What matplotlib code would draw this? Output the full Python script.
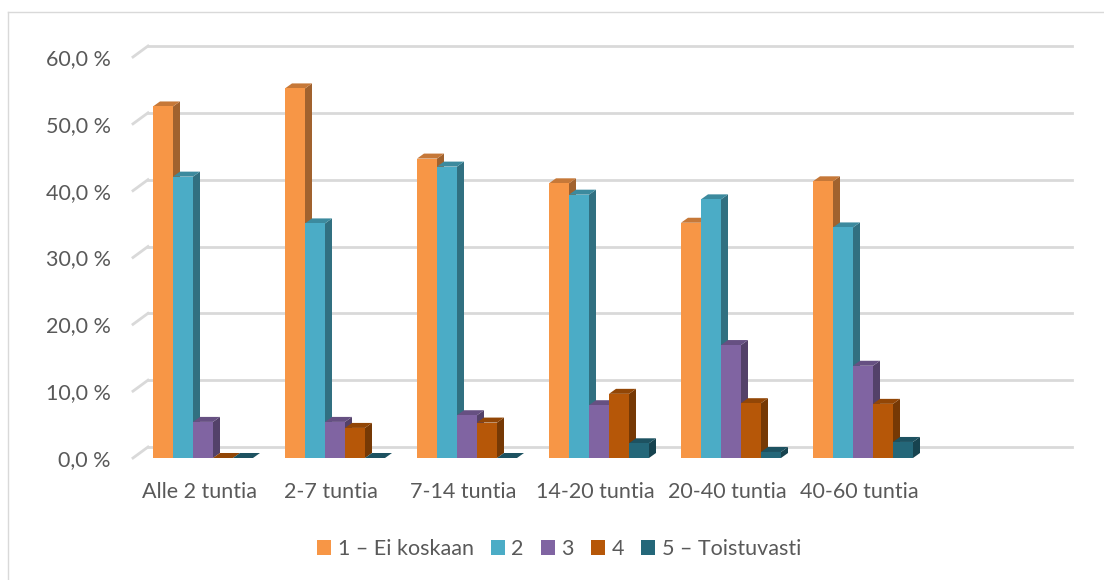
import matplotlib.pyplot as plt
from matplotlib.patches import Polygon, Patch
from matplotlib.lines import Line2D
import numpy as np

categories = ['Alle 2 tuntia', '2-7 tuntia', '7-14 tuntia', '14-20 tuntia', '20-40 tuntia', '40-60 tuntia']
series_names = ['1 – Ei koskaan', '2', '3', '4', '5 – Toistuvasti']
ei_koskaan = [52.6, 55.3, 44.8, 41.1, 35.2, 41.4]
kaksi = [42.1, 35.1, 43.6, 39.4, 38.7, 34.5]
kolme = [5.4, 5.4, 6.4, 7.9, 16.9, 13.8]
nelja = [0.0, 4.5, 5.3, 9.6, 8.2, 8.1]
toistuvasti = [0.0, 0.0, 0.0, 2.2, 0.9, 2.4]
yticks = [0, 10, 20, 30, 40, 50, 60]

series = [ei_koskaan, kaksi, kolme, nelja, toistuvasti]
colors = ['#F79646', '#4BACC6', '#8064A2', '#B65708', '#246779']
text_col = '#595959'
grid_col = '#D9D9D9'

plt.rcParams['font.family'] = ['Lato', 'DejaVu Sans']

W, H = 1104, 580
fig = plt.figure(figsize=(W / 100, H / 100), dpi=100)
# front plane of the 3D box in pixels
x0, x1, y0, y1 = 133, 1057, 458, 57
ax = fig.add_axes([x0 / W, (H - y0) / H, (x1 - x0) / W, (y0 - y1) / H])
ax.set_xlim(-0.5, 6.5)
ax.set_ylim(0, 60)
for s in ax.spines.values():
    s.set_visible(False)

ppx = (x1 - x0) / 7.0      # pixels per category
ppy = (y0 - y1) / 60.0     # pixels per percent

def px(dx, dy):
    return dx / ppx, dy / ppy

# back wall grid + side wall diagonals
wx, wy = px(15, 11)
for v in yticks:
    ax.plot([-0.5 + wx, 6.5 + wx], [v + wy, v + wy], color=grid_col, lw=2, clip_on=False, zorder=1)
    ax.plot([-0.5, -0.5 + wx], [v, v + wy], color=grid_col, lw=2, clip_on=False, zorder=1)

def shade(c, f):
    r, g, b = [int(c[i:i + 2], 16) / 255 for i in (1, 3, 5)]
    return (r * f, g * f, b * f)

bw = 20 / ppx
ddx, ddy = px(7, 5)
for k, (vals, c) in enumerate(zip(series, colors)):
    for i, v in enumerate(vals):
        left = i - 0.5 + bw + k * bw
        right = left + bw
        z = 3 + k
        # side face
        ax.add_patch(Polygon([(right, 0), (right + ddx, ddy), (right + ddx, v + ddy), (right, v)],
                             closed=True, fc=shade(c, 0.65), ec='none', zorder=z, clip_on=False))
        # top face
        ax.add_patch(Polygon([(left, v), (left + ddx, v + ddy), (right + ddx, v + ddy), (right, v)],
                             closed=True, fc=shade(c, 0.8), ec='none', zorder=z, clip_on=False))
        ax.bar(left, v, width=bw, align='edge', color=c, zorder=z, clip_on=False)

ax.set_yticks(yticks)
ax.set_yticklabels([f'{v:.1f} %'.replace('.', ',') for v in yticks])
ax.set_xticks(range(len(categories)))
ax.set_xticklabels(categories)
ax.tick_params(axis='y', length=0, pad=16, labelsize=15.5, labelcolor=text_col)
ax.tick_params(axis='x', length=0, pad=17, labelsize=15.5, labelcolor=text_col)

handles = [Patch(facecolor=c, edgecolor='none') for c in colors]
fig.legend(handles, series_names, loc='center', bbox_to_anchor=(559 / W, 1 - 549 / H), ncol=5,
           frameon=False, fontsize=15.5, labelcolor=text_col, handlelength=0.65, handleheight=0.65,
           handletextpad=0.3, columnspacing=0.8)

# chart frame (left and top edges)
fig.add_artist(Line2D([8 / W, 8 / W], [0, 1 - 12 / H], color='#D9D9D9', lw=1))
fig.add_artist(Line2D([8 / W, 1], [1 - 12 / H, 1 - 12 / H], color='#D9D9D9', lw=1))

fig.savefig('out.png', dpi=100)
